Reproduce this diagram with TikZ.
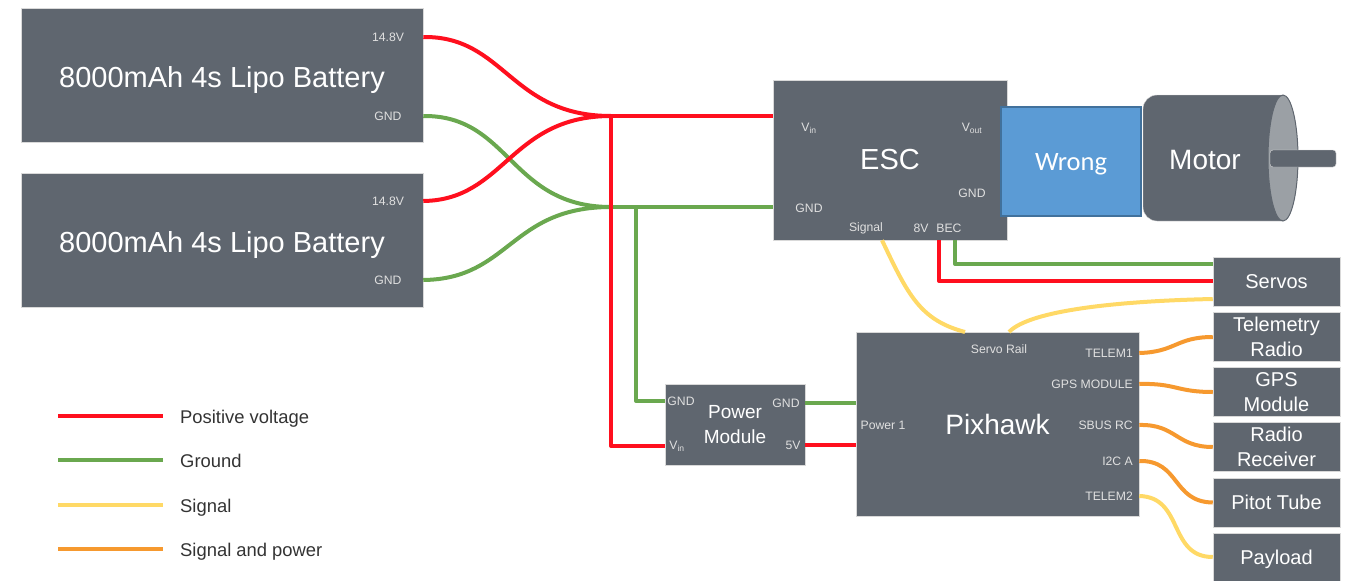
\documentclass[tikz,border=0pt]{standalone}
\usepackage{fontspec}
\setmainfont{Liberation Sans}
\newfontfamily\wrongfont{Carlito}
\definecolor{boxgrey}{HTML}{5F666F}
\definecolor{capgrey}{HTML}{9BA0A5}
\definecolor{wirered}{HTML}{FF0F1E}
\definecolor{wiregreen}{HTML}{6AA84F}
\definecolor{wireyellow}{HTML}{FFD966}
\definecolor{wireorange}{HTML}{F6992F}
\definecolor{wrongblue}{HTML}{5B9BD5}
\definecolor{wrongedge}{HTML}{41719C}
\usetikzlibrary{positioning}

\begin{document}
\begin{tikzpicture}[
    x=1pt, y=-1pt,
    bloc/.style={fill=boxgrey, draw=black!15, line width=0.5pt, inner sep=0pt, align=center, text=white},
    batt/.style={bloc, minimum width=402pt, minimum height=134pt, text height=24pt, text depth=0pt, font=\fontsize{29}{33}\selectfont},
    periph/.style={bloc, minimum width=127pt, minimum height=49pt, font=\fontsize{20}{25}\selectfont},
    port/.style={text=white!88!black, inner sep=0pt, yshift=-1pt, font=\fontsize{12.2}{14}\selectfont},
    wire/.style={line width=4pt, line join=round},
    wirepos/.style={wire, wirered},
    wiregnd/.style={wire, wiregreen},
    wiresig/.style={wire, wireyellow},
    wirepow/.style={wire, wireorange},
    lgd/.style={inner sep=0pt, anchor=west, text depth=0pt, font=\fontsize{18.4}{21}\selectfont, text=black!80},
  ]
  \useasboundingbox (0,0) rectangle (1353,581);

  % junctions and free ends
  \coordinate (junpos) at (611,116);
  \coordinate (jungnd) at (611,207);
  \coordinate (tapgnd) at (636,207);

  % batteries
  \node[batt] (batA) at (222,75) {8000mAh 4s Lipo Battery};
  \node[batt] (batB) at (222,240) {8000mAh 4s Lipo Battery};
  \node[port] (batAv) at (388,36) {14.8V};
  \node[port] (batAg) at (388,115) {GND};
  \node[port] (batBv) at (388,200) {14.8V};
  \node[port] (batBg) at (388,279) {GND};

  % esc, motor
  \node[bloc, minimum width=234pt, minimum height=160pt, font=\fontsize{29}{33}\selectfont] (esc) at (890,160) {ESC};
  \node[port] (escvin) at (809,127) {V\textsubscript{in}};
  \node[port] (escvout) at (972,127) {V\textsubscript{out}};
  \node[port] (escgndL) at (809,207) {GND};
  \node[port] (escgndR) at (972,192) {GND};
  \node[port] (escsig) at (866,227) {Signal};
  \node[port] (esc8v) at (921,227) {8V};
  \node[port] (escbec) at (949,227) {BEC};

  \draw[fill=boxgrey, draw=black!15, rounded corners=14pt] (1283,95) -- (1143,95) -- (1143,221) -- (1283,221);
  \draw[fill=capgrey, draw=boxgrey, line width=1pt] (1283,158) ellipse [x radius=15, y radius=63];
  \draw[fill=boxgrey, draw=black!15, rounded corners=3pt] (1270,150) rectangle (1336,167);
  \node[inner sep=0pt, text=white, font=\fontsize{28}{32}\selectfont] (motor) at (1205,160) {Motor};
  \node[fill=wrongblue, draw=wrongedge, line width=1.5pt, minimum width=140pt, minimum height=109pt, inner sep=0pt, text depth=0pt, text=white, font=\wrongfont\fontsize{26.5}{30}\selectfont] (wrong) at (1071,161.5) {Wrong};

  % power module, pixhawk
  \node[bloc, minimum width=140pt, minimum height=81pt, font=\fontsize{19}{25}\selectfont] (pm) at (735,424.5) {Power\\Module};
  \node[port] (pmgndL) at (681,400) {GND};
  \node[port] (pmvin) at (677,445) {V\textsubscript{in}};
  \node[port] (pmgndR) at (786,402) {GND};
  \node[port] (pm5v) at (793,444) {5V};

  \node[bloc, minimum width=283pt, minimum height=184pt, font=\fontsize{28}{32}\selectfont] (pix) at (997.5,424) {Pixhawk};
  \node[port] (pixrail) at (999,348) {Servo Rail};
  \node[port] (pixpow) at (883,424) {Power 1};
  \node[port, anchor=east] (pixt1) at (1133,352) {TELEM1};
  \node[port, anchor=east] (pixgps) at (1133,383) {GPS MODULE};
  \node[port, anchor=east] (pixsbus) at (1133,424) {SBUS RC};
  \node[port, anchor=east] (pixi2c) at (1133,460) {I2C A};
  \node[port, anchor=east] (pixt2) at (1133,495) {TELEM2};

  % peripherals
  \node[periph] (servos) at (1276.5,281.5) {Servos};
  \node[periph] (telem) at (1276.5,337) {Telemetry\\Radio};
  \node[periph] (gps) at (1276.5,392) {GPS\\Module};
  \node[periph] (radio) at (1276.5,447) {Radio\\Receiver};
  \node[periph] (pitot) at (1276.5,502.5) {Pitot Tube};
  \node[periph, minimum height=48pt, text depth=0pt] (payload) at (1276.5,557) {Payload};

  % battery wires
  \draw[wirepos] (batA.east |- batAv) .. controls (505,36) and (510,116) .. (junpos);
  \draw[wiregnd] (batA.east |- batAg) .. controls (510,115) and (510,207) .. (jungnd);
  \draw[wirepos] (batB.east |- batBv) .. controls (505,200) and (510,116) .. (junpos);
  \draw[wiregnd] (batB.east |- batBg) .. controls (510,279) and (510,207) .. (jungnd);
  \draw[wiregnd] (jungnd) -- (esc.west |- jungnd);
  \draw[wirepos] (junpos) -- (esc.west |- junpos);
  \draw[wiregnd] (tapgnd) |- (pm.west |- pmgndL);
  \draw[wirepos] (junpos) |- (pm.west |- pmvin);

  % power module to pixhawk
  \draw[wiregnd] (pm.east |- pmgndR) -- (pix.west |- pmgndR);
  \draw[wirepos] (pm.east |- pm5v) -- (pix.west |- pm5v);

  % esc to servos, pixhawk
  \draw[wiregnd] (esc.south -| escbec) ++(6,0) coordinate (becgnd) |- (servos.west |- 0,264);
  \draw[wirepos] (esc.south -| esc8v) ++(18,0) coordinate (becpos) |- (servos.west |- 0,281);
  \draw[wiresig] (esc.south -| escsig) ++(16,0) coordinate (sigout) .. controls (908,295) and (920,320) .. (965,332);
  \draw[wiresig] (servos.west |- 0,299) .. controls (1120,301) and (1030,310) .. (1009,332);

  % pixhawk to peripherals
  \draw[wirepow] (pix.east |- pixt1) .. controls (1176,352) and (1176,337) .. (telem.west);
  \draw[wirepow] (pix.east |- pixgps) .. controls (1176,383) and (1176,392) .. (gps.west);
  \draw[wirepow] (pix.east |- pixsbus) .. controls (1176,424) and (1176,447) .. (radio.west);
  \draw[wirepow] (pix.east |- pixi2c) .. controls (1180,460) and (1172,502) .. (pitot.west);
  \draw[wiresig] (pix.east |- pixt2) .. controls (1184,497) and (1168,557) .. (payload.west);

  % legend
  \node[lgd] (lgpos) at (180,417) {Positive voltage};
  \node[lgd] (lggnd) at (180,461) {Ground};
  \node[lgd] (lgsig) at (180,506) {Signal};
  \node[lgd] (lgpow) at (180,550) {Signal and power};
  \draw[wirepos] (58,416) -- (163,416);
  \draw[wiregnd] (58,460) -- (163,460);
  \draw[wiresig] (58,505) -- (163,505);
  \draw[wirepow] (58,549) -- (163,549);
\end{tikzpicture}
\end{document}
